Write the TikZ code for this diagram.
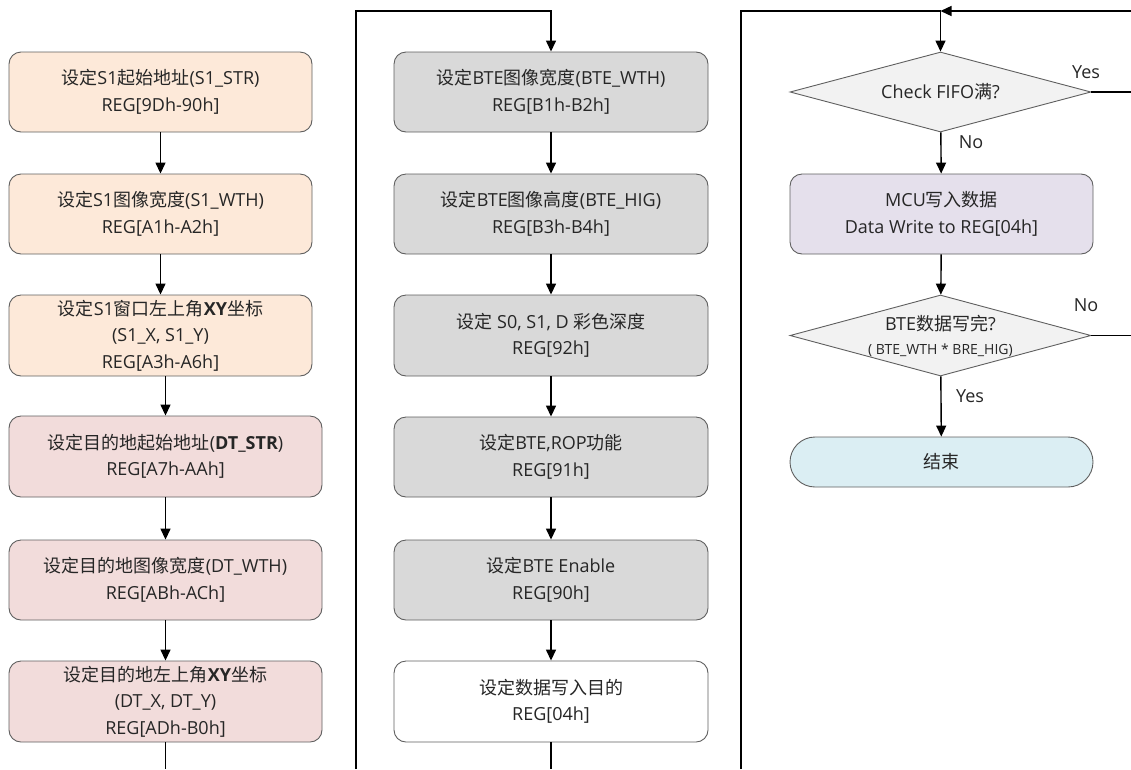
\documentclass[tikz,border=0pt]{standalone}
\usepackage{fontspec}
\setmainfont{Open Sans}
\newfontfamily\zh{Noto Sans CJK SC}
\usetikzlibrary{arrows.meta,shapes.geometric}

\newcommand{\cn}[1]{{\zh #1}}

\definecolor{pesca}{HTML}{FDE9D9}
\definecolor{rosa}{HTML}{F2DCDB}
\definecolor{grigio}{HTML}{D9D9D9}
\definecolor{grigiochiaro}{HTML}{F2F2F2}
\definecolor{lavanda}{HTML}{E5E0EC}
\definecolor{azzurro}{HTML}{DBEEF3}
\definecolor{bordo}{HTML}{5F5F5F}
\definecolor{testo}{HTML}{262626}

\tikzset{
    passo/.style={draw=bordo, line width=0.9pt, rounded corners=12pt, align=center,
        inner sep=0pt, minimum width=303pt, minimum height=80pt, text=testo,
        font=\fontsize{18}{26.5}\selectfont},
    scelta/.style={diamond, draw=bordo, line width=0.9pt, fill=grigiochiaro, align=center,
        inner sep=0pt, shape aspect=3.72, minimum width=301pt, minimum height=80pt,
        text=testo, font=\fontsize{18}{24}\selectfont},
    freccia/.style={->, line width=1.4pt},
    linea/.style={line width=1.4pt},
    etichetta/.style={inner sep=0pt, text=testo, font=\fontsize{18}{22}\selectfont}
}

\begin{document}
\begin{tikzpicture}[x=1pt, y=-1pt, >={Triangle[length=11pt,width=10pt]}]
    \useasboundingbox (0,0) rectangle (1131,769);
    \coordinate (fondo) at (0,769);
    \coordinate (cima) at (0,11);

    % colonna sinistra: finestra S1 e destinazione
    \node[passo, fill=pesca] (s1str) at (160.5,92) {\cn{设定}S1\cn{起始地址}(S1\_STR)\\REG[9Dh-90h]};
    \node[passo, fill=pesca] (s1wth) at (160.5,214) {\cn{设定}S1\cn{图像宽度}(S1\_WTH)\\REG[A1h-A2h]};
    \node[passo, fill=pesca, minimum height=81pt] (s1xy) at (160.5,335.5) {\cn{设定}S1\cn{窗口左上角}\textbf{XY}\cn{坐标}\\(S1\_X, S1\_Y)\\REG[A3h-A6h]};
    \node[passo, fill=rosa, minimum width=313pt, minimum height=81pt] (dtstr) at (165.5,456.5) {\cn{设定目的地起始地址}(\textbf{DT\_STR})\\REG[A7h-AAh]};
    \node[passo, fill=rosa, minimum width=313pt] (dtwth) at (165.5,580) {\cn{设定目的地图像宽度}(DT\_WTH)\\REG[ABh-ACh]};
    \node[passo, fill=rosa, minimum width=313pt, minimum height=81pt] (dtxy) at (165.5,701.5) {\cn{设定目的地左上角}\textbf{XY}\cn{坐标}\\(DT\_X, DT\_Y)\\REG[ADh-B0h]};

    \draw[freccia] (s1str) -- (s1wth);
    \draw[freccia] (s1wth) -- (s1xy);
    \draw[freccia] (s1xy.south -| dtstr) -- (dtstr);
    \draw[freccia] (dtstr) -- (dtwth);
    \draw[freccia] (dtwth) -- (dtxy);
    \draw[linea] (dtxy) -- (dtxy |- fondo);

    % colonna centrale: registri BTE
    \coordinate (ritorno1) at (356,769);
    \node[passo, fill=grigio, minimum width=314pt] (btewth) at (551,92) {\cn{设定}BTE\cn{图像宽度}(BTE\_WTH)\\REG[B1h-B2h]};
    \node[passo, fill=grigio, minimum width=314pt] (btehig) at (551,214) {\cn{设定}BTE\cn{图像高度}(BTE\_HIG)\\REG[B3h-B4h]};
    \node[passo, fill=grigio, minimum width=314pt, minimum height=81pt] (colore) at (551,335.5) {\cn{设定} S0, S1, D \cn{彩色深度}\\REG[92h]};
    \node[passo, fill=grigio, minimum width=314pt] (rop) at (551,457) {\cn{设定}BTE,ROP\cn{功能}\\REG[91h]};
    \node[passo, fill=grigio, minimum width=314pt] (enable) at (551,580) {\cn{设定}BTE Enable\\REG[90h]};
    \node[passo, fill=white, minimum width=314pt, minimum height=81pt] (dest) at (551,701.5) {\cn{设定数据写入目的}\\REG[04h]};

    \draw[freccia] (ritorno1) |- (btewth.north |- cima) -- (btewth);
    \draw[freccia] (btewth) -- (btehig);
    \draw[freccia] (btehig) -- (colore);
    \draw[freccia] (colore) -- (rop);
    \draw[freccia] (rop) -- (enable);
    \draw[freccia] (enable) -- (dest);
    \draw[linea] (dest) -- (dest |- fondo);

    % colonna destra: ciclo di scrittura
    \coordinate (ritorno2) at (741,769);
    \coordinate (destra) at (1131,11);
    \node[scelta] (fifo) at (940.5,92) {Check FIFO\cn{满}?};
    \node[passo, fill=lavanda] (mcu) at (941.5,214) {MCU\cn{写入数据}\\Data Write to REG[04h]};
    \node[scelta, minimum height=81pt] (scritto) at (940.5,335.5) {BTE\cn{数据写完}?\\{\fontsize{14}{16}\selectfont ( BTE\_WTH * BRE\_HIG)}};
    \node[passo, fill=azzurro, minimum height=50pt, rounded corners=25pt] (fine) at (941.5,462) {\cn{结束}};

    \draw[freccia] (ritorno2) |- (fifo.north |- cima) -- (fifo);
    \draw[freccia] (destra) -- (fifo.north |- cima);
    \draw[linea] (fifo.east) -- (fifo.east -| destra);
    \draw[freccia] (fifo) -- (mcu);
    \draw[freccia] (mcu) -- (scritto);
    \draw[linea] (scritto.east) -- (scritto.east -| destra);
    \draw[freccia] (scritto) -- (fine);

    \node[etichetta] (si1) at (1086,72) {Yes};
    \node[etichetta] (no1) at (971,142) {No};
    \node[etichetta] (no2) at (1086,305) {No};
    \node[etichetta] (si2) at (970,396) {Yes};
\end{tikzpicture}
\end{document}
